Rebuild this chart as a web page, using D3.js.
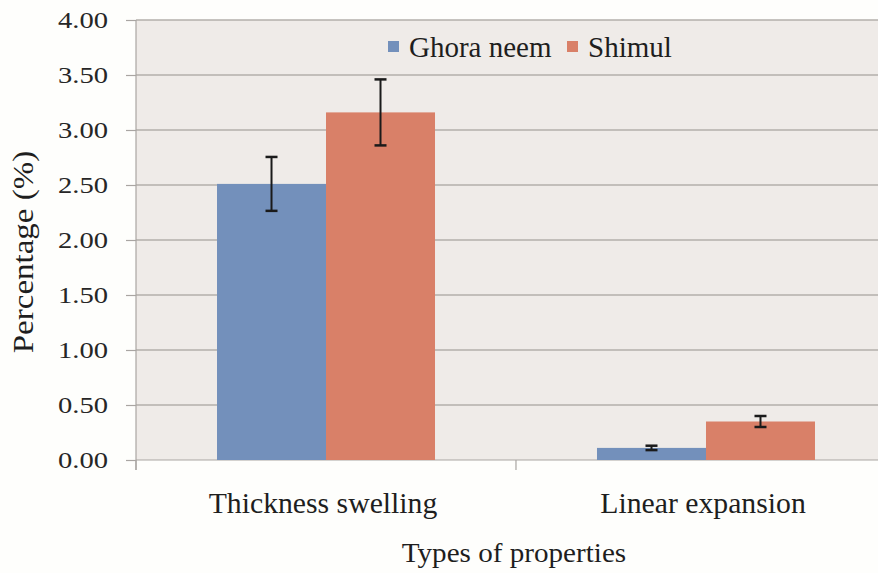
<!DOCTYPE html>
<html>
<head>
<meta charset="utf-8">
<script src="https://cdn.jsdelivr.net/npm/d3@7"></script>
<style>
  html, body { margin: 0; padding: 0; background: #fefefc; }
  svg { display: block; }
</style>
</head>
<body>
<svg id="chart" width="878" height="573" style="font-family:'Liberation Serif'"></svg>
<script>
// ---- data ----
const categories = ["Thickness swelling", "Linear expansion"];
const seriesNames = ["Ghora neem", "Shimul"];
const ghoraNeem = [2.51, 0.11];
const shimul = [3.16, 0.35];
const ghoraNeemErr = [0.245, 0.02];
const shimulErr = [0.30, 0.05];
const yTicks = [0, 0.5, 1, 1.5, 2, 2.5, 3, 3.5, 4];
const colors = ["#7390bb", "#d98068"];
const xTitle = "Types of properties";
const yTitle = "Percentage (%)";

const SERIF = "'Liberation Serif'";

// ---- layout ----
const svg = d3.select("#chart");
const plot = { left: 136, right: 896, top: 20, bottom: 460 };

const y = d3.scaleLinear().domain([0, 4]).range([plot.bottom, plot.top]);
const x0 = d3.scaleBand().domain(categories).range([plot.left, plot.right])
  .paddingInner(0.4263).paddingOuter(0.2132);
const x1 = d3.scaleBand().domain(seriesNames).range([0, x0.bandwidth()]);

const values = [ghoraNeem, shimul];
const errs = [ghoraNeemErr, shimulErr];

// widen glyph runs a little, like the reference's wider serif face
function stretch(sel, factor) {
  sel.each(function () {
    const w = this.getComputedTextLength();
    d3.select(this).attr("textLength", w * factor).attr("lengthAdjust", "spacingAndGlyphs");
  });
}

// plot background
svg.append("rect")
  .attr("x", plot.left).attr("y", plot.top)
  .attr("width", plot.right - plot.left).attr("height", plot.bottom - plot.top)
  .attr("fill", "#efebe8");

// gridlines
svg.append("g").selectAll("line").data(yTicks.filter(d => d > 0)).join("line")
  .attr("x1", plot.left).attr("x2", plot.right)
  .attr("y1", d => y(d)).attr("y2", d => y(d))
  .attr("stroke", "#b3afab").attr("stroke-width", 1.5);

// y axis
const yAxis = d3.axisLeft(y).tickValues(yTicks).tickFormat(d3.format(".2f"))
  .tickSize(10).tickPadding(18);
const gy = svg.append("g").attr("transform", `translate(${plot.left},0)`).call(yAxis);
gy.attr("font-family", null).attr("font-size", null);
gy.select(".domain").remove();
gy.append("line").attr("x1", 0).attr("x2", 0).attr("y1", plot.top).attr("y2", plot.bottom + 10)
  .attr("stroke", "#a9a5a2").attr("stroke-width", 1.2);
gy.selectAll(".tick line").attr("stroke", "#a9a5a2").attr("stroke-width", 1.2);
const tickTexts = gy.selectAll(".tick text").style("font-size", "24px").attr("fill", "#262626")
  .style("font-family", SERIF);
stretch(tickTexts, 1.19);

// x axis
const gx = svg.append("g").attr("transform", `translate(0,${plot.bottom})`);
gx.append("line").attr("x1", plot.left).attr("x2", plot.right).attr("y1", 0).attr("y2", 0)
  .attr("stroke", "#a9a5a2").attr("stroke-width", 1.2);
const boundaries = categories.map(c => x0(c) - x0.step() * x0.paddingOuter()).concat([plot.right]);
gx.selectAll("line.b").data(boundaries).join("line").attr("class", "b")
  .attr("x1", d => d).attr("x2", d => d).attr("y1", 0).attr("y2", 10)
  .attr("stroke", "#a9a5a2").attr("stroke-width", 1.2);
const catTexts = gx.selectAll("text.cat").data(categories).join("text").attr("class", "cat")
  .attr("x", d => x0(d) + x0.bandwidth() / 2 - 3)
  .attr("y", 53)
  .attr("text-anchor", "middle")
  .style("font-size", "29px").style("font-family", SERIF).attr("fill", "#1e1e1e")
  .text(d => d);
stretch(catTexts, 1.025);

// bars
const groups = svg.append("g").selectAll("g").data(categories).join("g")
  .attr("transform", d => `translate(${x0(d)},0)`);
const rows = (d, i) => seriesNames.map((s, j) => ({ s, j, v: values[j][i], e: errs[j][i] }));
groups.selectAll("rect").data(rows).join("rect")
  .attr("x", d => x1(d.s)).attr("width", x1.bandwidth())
  .attr("y", d => y(d.v)).attr("height", d => y(0) - y(d.v))
  .attr("fill", d => colors[d.j]);

// error bars
const capW = 6;
const eb = groups.selectAll("g.err").data(rows).join("g").attr("class", "err")
  .attr("transform", d => `translate(${x1(d.s) + x1.bandwidth() / 2},0)`);
eb.append("line").attr("x1", 0).attr("x2", 0)
  .attr("y1", d => y(d.v + d.e)).attr("y2", d => y(d.v - d.e))
  .attr("stroke", "#1a1a1a").attr("stroke-width", 2);
eb.append("line").attr("x1", -capW).attr("x2", capW)
  .attr("y1", d => y(d.v + d.e)).attr("y2", d => y(d.v + d.e))
  .attr("stroke", "#1a1a1a").attr("stroke-width", 2.5);
eb.append("line").attr("x1", -capW).attr("x2", capW)
  .attr("y1", d => y(d.v - d.e)).attr("y2", d => y(d.v - d.e))
  .attr("stroke", "#1a1a1a").attr("stroke-width", 2.5);

// legend
const legend = svg.append("g");
const legendItems = [{ name: seriesNames[0], x: 388 }, { name: seriesNames[1], x: 567 }];
legendItems.forEach((it, i) => {
  legend.append("rect").attr("x", it.x).attr("y", 41).attr("width", 11).attr("height", 11)
    .attr("fill", colors[i]);
  legend.append("text").attr("x", it.x + 21).attr("y", 57)
    .style("font-size", "29px").style("font-family", SERIF).attr("fill", "#1e1e1e").text(it.name);
});

// axis titles
const xt = svg.append("text").attr("x", 514).attr("y", 562).attr("text-anchor", "middle")
  .style("font-size", "28px").style("font-family", SERIF).attr("fill", "#1e1e1e").text(xTitle);
stretch(xt, 1.04);
const yt = svg.append("text").attr("transform", "translate(33,252) rotate(-90)").attr("text-anchor", "middle")
  .style("font-size", "30px").style("font-family", SERIF).attr("fill", "#1e1e1e").text(yTitle);
stretch(yt, 1.1);
</script>
</body>
</html>
